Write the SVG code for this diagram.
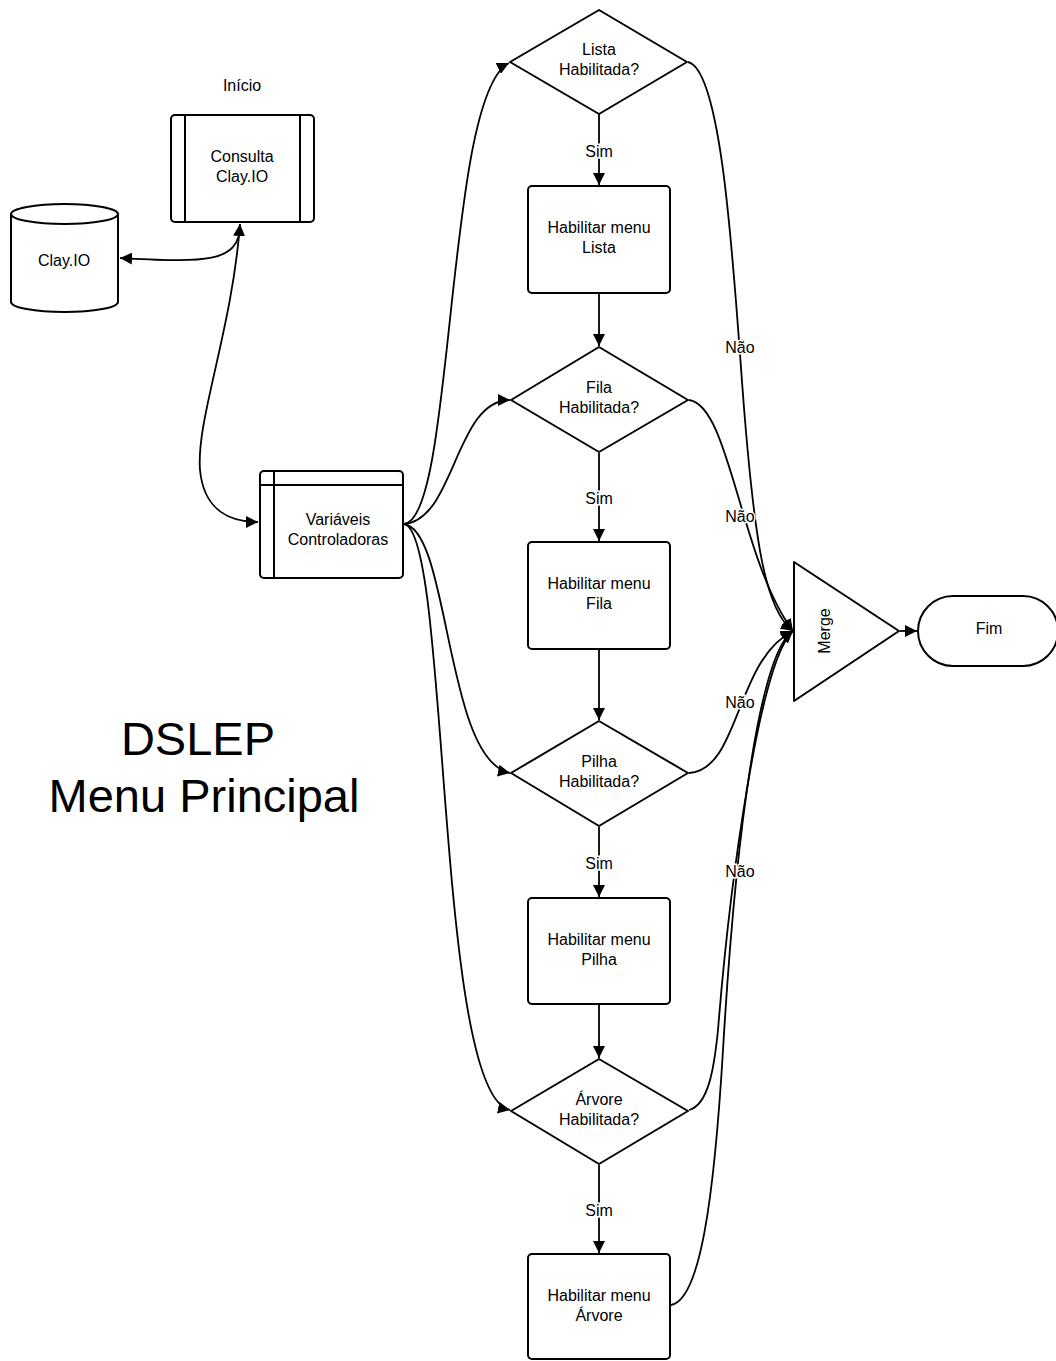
<svg xmlns="http://www.w3.org/2000/svg" width="1056" height="1361" viewBox="0 0 1056 1361">
<defs>
<marker id="ah" viewBox="0 0 10 10" refX="10" refY="5" markerWidth="12" markerHeight="12" markerUnits="userSpaceOnUse" orient="auto-start-reverse">
<path d="M0,0 L10,5 L0,10 z" fill="#000"/>
</marker>
<style>
.s{fill:#fff;stroke:#000;stroke-width:2}
.l{fill:none;stroke:#000;stroke-width:2}
.t{font-family:"Liberation Sans",Arial,sans-serif;font-size:16px;fill:#000;text-anchor:middle}
.c{fill:none;stroke:#000;stroke-width:1.8}
.lb{font-family:"Liberation Sans",Arial,sans-serif;font-size:16px;fill:#000;text-anchor:middle;paint-order:stroke;stroke:#fff;stroke-width:3}
</style>
</defs>
<rect width="1056" height="1361" fill="#fff"/>

<g id="connectors">
<path class="c" d="M240,224 C232,330 196,420 200,470 C204,512 232,522 258,522" marker-start="url(#ah)" marker-end="url(#ah)"/>
<path class="c" d="M240,225 C240,265 200,262 120,258" marker-end="url(#ah)"/>
<path class="c" d="M404,524 C455,520 445,95 509,63" marker-end="url(#ah)"/>
<path class="c" d="M404,524 C455,520 455,400 510,400" marker-end="url(#ah)"/>
<path class="c" d="M404,524 C450,530 445,760 510,773" marker-end="url(#ah)"/>
<path class="c" d="M404,524 C450,530 435,1095 510,1110" marker-end="url(#ah)"/>
<path class="c" d="M599,114 L599,185" marker-end="url(#ah)"/>
<path class="c" d="M599,294 L599,346" marker-end="url(#ah)"/>
<path class="c" d="M599,453 L599,541" marker-end="url(#ah)"/>
<path class="c" d="M599,650 L599,720" marker-end="url(#ah)"/>
<path class="c" d="M599,827 L599,897" marker-end="url(#ah)"/>
<path class="c" d="M599,1005 L599,1058" marker-end="url(#ah)"/>
<path class="c" d="M599,1165 L599,1253" marker-end="url(#ah)"/>
<path class="c" d="M688,62 C725,70 735,300 745,420 C755,540 765,610 793,631" marker-end="url(#ah)"/>
<path class="c" d="M689,400 C730,405 740,560 793,631" marker-end="url(#ah)"/>
<path class="c" d="M689,773 C740,770 735,660 793,631" marker-end="url(#ah)"/>
<path class="c" d="M689,1110 C708,1105 714,1070 718,1030 C730,880 760,660 793,631" marker-end="url(#ah)"/>
<path class="c" d="M671,1305 C700,1300 714,1200 723,1050 C736,830 760,652 793,631" marker-end="url(#ah)"/>
<path class="c" d="M900,631 L917,631" marker-end="url(#ah)"/>
<text class="lb" x="599" y="157">Sim</text>
<text class="lb" x="599" y="504">Sim</text>
<text class="lb" x="599" y="869">Sim</text>
<text class="lb" x="599" y="1216">Sim</text>
<text class="lb" x="740" y="353">Não</text>
<text class="lb" x="740" y="522">Não</text>
<text class="lb" x="740" y="708">Não</text>
<text class="lb" x="740" y="877">Não</text>
</g>

<g id="inicio-label"><text class="t" x="242" y="91">Início</text></g>

<g id="consulta">
<rect class="s" x="171" y="115" width="143" height="107" rx="4"/>
<line class="l" x1="185" y1="115" x2="185" y2="222"/>
<line class="l" x1="300" y1="115" x2="300" y2="222"/>
<text class="t" x="242" y="162">Consulta</text>
<text class="t" x="242" y="182">Clay.IO</text>
</g>

<g id="clayio">
<path class="s" d="M11,214 A53.5,10 0 0 1 118,214 L118,302 A53.5,10 0 0 1 11,302 Z"/>
<path class="l" d="M11,214 A53.5,10 0 0 0 118,214"/>
<text class="t" x="64" y="266">Clay.IO</text>
</g>

<g id="variaveis">
<rect class="s" x="260" y="471" width="143" height="107" rx="4"/>
<line class="l" x1="274" y1="471" x2="274" y2="578"/>
<line class="l" x1="260" y1="485" x2="403" y2="485"/>
<text class="t" x="338" y="525">Variáveis</text>
<text class="t" x="338" y="545">Controladoras</text>
</g>

<g id="d-lista">
<path class="s" d="M599,10 L687,62 L599,114 L510,62 Z" stroke-linejoin="round"/>
<text class="t" x="599" y="55">Lista</text>
<text class="t" x="599" y="75">Habilitada?</text>
</g>
<g id="r-lista">
<rect class="s" x="528" y="186" width="142" height="107" rx="4"/>
<text class="t" x="599" y="233">Habilitar menu</text>
<text class="t" x="599" y="253">Lista</text>
</g>

<g id="d-fila">
<path class="s" d="M599,347 L688,400 L599,452 L511,400 Z" stroke-linejoin="round"/>
<text class="t" x="599" y="393">Fila</text>
<text class="t" x="599" y="413">Habilitada?</text>
</g>
<g id="r-fila">
<rect class="s" x="528" y="542" width="142" height="107" rx="4"/>
<text class="t" x="599" y="589">Habilitar menu</text>
<text class="t" x="599" y="609">Fila</text>
</g>

<g id="d-pilha">
<path class="s" d="M599,721 L688,773 L599,826 L511,773 Z" stroke-linejoin="round"/>
<text class="t" x="599" y="767">Pilha</text>
<text class="t" x="599" y="787">Habilitada?</text>
</g>
<g id="r-pilha">
<rect class="s" x="528" y="898" width="142" height="106" rx="4"/>
<text class="t" x="599" y="945">Habilitar menu</text>
<text class="t" x="599" y="965">Pilha</text>
</g>

<g id="d-arvore">
<path class="s" d="M599,1059 L688,1111 L599,1164 L511,1111 Z" stroke-linejoin="round"/>
<text class="t" x="599" y="1105">Árvore</text>
<text class="t" x="599" y="1125">Habilitada?</text>
</g>
<g id="r-arvore">
<rect class="s" x="528" y="1254" width="142" height="105" rx="4"/>
<text class="t" x="599" y="1301">Habilitar menu</text>
<text class="t" x="599" y="1321">Árvore</text>
</g>

<g id="merge">
<path class="s" d="M794,562 L899,631 L794,701 Z" stroke-linejoin="round"/>
<text class="t" transform="translate(830,631) rotate(-90)">Merge</text>
</g>

<g id="fim">
<rect class="s" x="918" y="596" width="140" height="70" rx="35"/>
<text class="t" x="989" y="634">Fim</text>
</g>

<g id="title">
<text x="198" y="755" font-family="'Liberation Sans',Arial,sans-serif" font-size="47" text-anchor="middle">DSLEP</text>
<text x="204" y="812" font-family="'Liberation Sans',Arial,sans-serif" font-size="47" text-anchor="middle">Menu Principal</text>
</g>
</svg>
